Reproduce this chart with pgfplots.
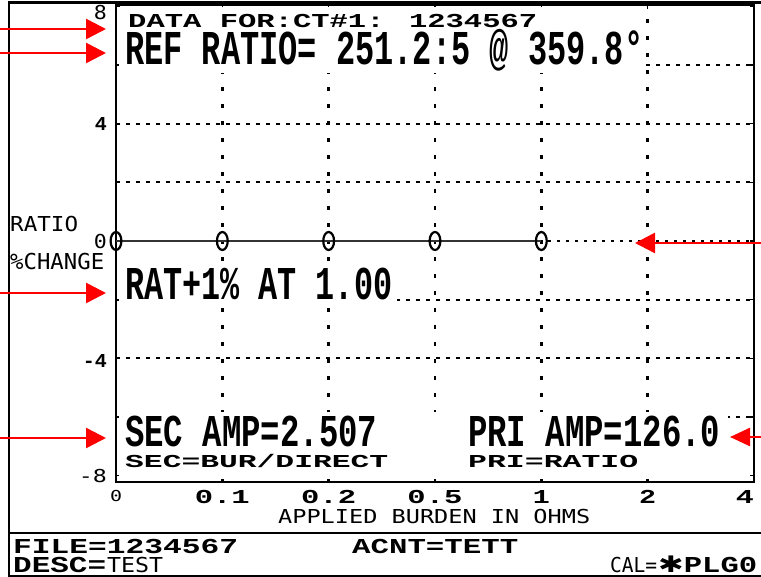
\documentclass[border=0pt]{standalone}
\usepackage{fontspec}
\usepackage{graphicx}
\usepackage{pgfplots}
\pgfplotsset{compat=1.18}
\usetikzlibrary{arrows.meta}
\newfontfamily\lmono{Liberation Mono}
\newfontfamily\dmono{DejaVu Sans Mono}
\newfontfamily\djv{DejaVu Sans}
\newcommand\B{\lmono\bfseries}
\newcommand\N{\dmono}
% #1 font, #2 width (pt), #3 cap height (pt), #4 text
\newcommand\T[4]{\resizebox{#2pt}{#3pt}{#1\raisebox{0pt}[\fontcharht\font`E][0pt]{#4}}}
\begin{document}
\begin{tikzpicture}
\path[use as bounding box] (0pt,0pt) rectangle (761pt,-577pt);
\begin{axis}[
  at={(116pt,-482pt)}, anchor=south west,
  scale only axis, width=638pt, height=477pt,
  xmin=0, xmax=6, ymin=-8.22, ymax=8.05,
  clip=false,
  axis line style={line width=2pt},
  tick style={black, line width=1.5pt},
  major tick length=4pt, tick align=inside,
  xtick={0,1,2,3,4,5,6},
  xticklabels={{\T{\N}{12}{11}{0}}, {\T{\B}{55}{13}{0.1}}, {\T{\B}{55}{13}{0.2}}, {\T{\B}{55}{13}{0.5}}, {\T{\B}{17}{13}{1}}, {\T{\B}{17}{13}{2}}, {\makebox[0pt][r]{\T{\B}{18}{13}{4}}}},
  xticklabel style={anchor=north, inner sep=0pt, yshift=-8pt},
  ytick={-6,-4,-2,0,2,4,6},
  yticklabels={{}, {\raisebox{-3pt}[13pt][0pt]{\T{\B}{24}{13}{-4}}}, {}, {\T{\N}{13}{14}{0}}, {}, {\T{\B}{12}{13}{4}}, {}},
  extra y ticks={-8,8},
  extra y tick labels={{\T{\N}{28}{13}{-8}}, {\raisebox{-6pt}[14pt][0pt]{\T{\N}{13}{14}{8}}}},
  yticklabel style={anchor=east, inner sep=0pt, xshift=-9pt},
]
% grid
\draw[black, line width=2.5pt, dash pattern=on 4pt off 13pt] (axis cs:1,-8.22) -- (axis cs:1,8.05);
\draw[black, line width=2.5pt, dash pattern=on 4pt off 13pt] (axis cs:2,-8.22) -- (axis cs:2,8.05);
\draw[black, line width=2.5pt, dash pattern=on 4pt off 13pt] (axis cs:3,-8.22) -- (axis cs:3,8.05);
\draw[black, line width=2.5pt, dash pattern=on 4pt off 13pt] (axis cs:4,-8.22) -- (axis cs:4,8.05);
\draw[black, line width=2.5pt, dash pattern=on 4pt off 13pt] (axis cs:5,-8.22) -- (axis cs:5,8.05);
\draw[black, line width=2pt, dash pattern=on 4pt off 6pt] (axis cs:0,6) -- (axis cs:6,6);
\draw[black, line width=2pt, dash pattern=on 4pt off 6pt] (axis cs:0,4) -- (axis cs:6,4);
\draw[black, line width=2pt, dash pattern=on 4pt off 6pt] (axis cs:0,2) -- (axis cs:6,2);
\draw[black, line width=1.2pt, dash pattern=on 3pt off 6pt] (axis cs:0,0) -- (axis cs:6,0);
\draw[black, line width=2pt, dash pattern=on 4pt off 6pt] (axis cs:0,-2) -- (axis cs:6,-2);
\draw[black, line width=2pt, dash pattern=on 4pt off 6pt] (axis cs:0,-4) -- (axis cs:6,-4);
\draw[black, line width=2pt, dash pattern=on 4pt off 6pt] (axis cs:0,-6) -- (axis cs:6,-6);
% data
\addplot[color=black!80, line width=1.5pt, mark=o, mark size=9pt,
  mark options={solid, black, xscale=0.6, line width=2.2pt}]
  coordinates {(0,0) (1,0) (2,0) (3,0) (4,0)};
\end{axis}
\begin{scope}[x=1pt,y=-1pt]
% white text backgrounds
\fill[white] (119,7) rectangle (645,73);
\fill[white] (119,264) rectangle (397,306);
\fill[white] (119,412) rectangle (728,479);
% frame
\draw[line width=2pt] (9,2) -- (9,577);
\draw[line width=3pt] (8,3) -- (761,3);
\draw[line width=1.5pt] (9,533) -- (761,533);
\draw[line width=2pt] (9,576) -- (761,576);
% texts in plot
\node[anchor=south west, inner sep=0pt] at (128,28) {\T{\B}{409}{13}{DATA FOR:CT\#1: 1234567}};
\node[anchor=south west, inner sep=0pt] at (125,65) {\T{\B}{518}{32}{REF RATIO= 251.2:5 @ 359.8°}};
\node[anchor=south west, inner sep=0pt] at (125,300) {\T{\B}{267}{31}{RAT+1\% AT 1.00}};
\node[anchor=south west, inner sep=0pt] at (125,447) {\T{\B}{252}{30}{SEC AMP=2.507}};
\node[anchor=south west, inner sep=0pt] at (468,447) {\T{\B}{252}{30}{PRI AMP=126.0}};
\node[anchor=south west, inner sep=0pt] at (125,468) {\T{\B}{263}{12}{SEC=BUR/DIRECT}};
\node[anchor=south west, inner sep=0pt] at (468,468) {\T{\B}{170}{12}{PRI=RATIO}};
% axis titles
\node[anchor=south west, inner sep=0pt] at (10,232) {\T{\N}{68}{15}{RATIO}};
\node[anchor=south west, inner sep=0pt] at (10,270) {\T{\N}{94}{16}{\%CHANGE}};
\node[anchor=south west, inner sep=0pt] at (278,524) {\T{\N}{312}{14}{APPLIED BURDEN IN OHMS}};
% footer
\node[anchor=south west, inner sep=0pt] at (13,554) {\T{\B}{225}{14}{FILE=1234567}};
\node[anchor=south west, inner sep=0pt] at (13,573) {\T{\B}{93}{15}{DESC=}};
\node[anchor=south west, inner sep=0pt] at (107,573) {\T{\N}{56}{15}{TEST}};
\node[anchor=south west, inner sep=0pt] at (352,554) {\T{\B}{166}{14}{ACNT=TETT}};
\node[anchor=south west, inner sep=0pt] at (610,573) {\T{\N}{47}{15}{CAL=}};
\node[anchor=south west, inner sep=0pt] at (658,573) {\T{\B}{99}{15}{{\djv ✱}PLG0}};
% red arrows
\begin{scope}[red, line width=2.5pt]
\draw[-{Triangle[length=20pt,width=20pt]}] (0,29) -- (106,29);
\draw[-{Triangle[length=20pt,width=20pt]}] (0,53) -- (106,53);
\draw[-{Triangle[length=20pt,width=20pt]}] (0,293) -- (106,293);
\draw[-{Triangle[length=20pt,width=20pt]}] (0,438) -- (106,438);
\draw[-{Triangle[length=20pt,width=20pt]}] (761,243) -- (635,243);
\draw[-{Triangle[length=20pt,width=18pt]}] (761,437) -- (730,437);
\end{scope}
\end{scope}
\end{tikzpicture}
\end{document}
